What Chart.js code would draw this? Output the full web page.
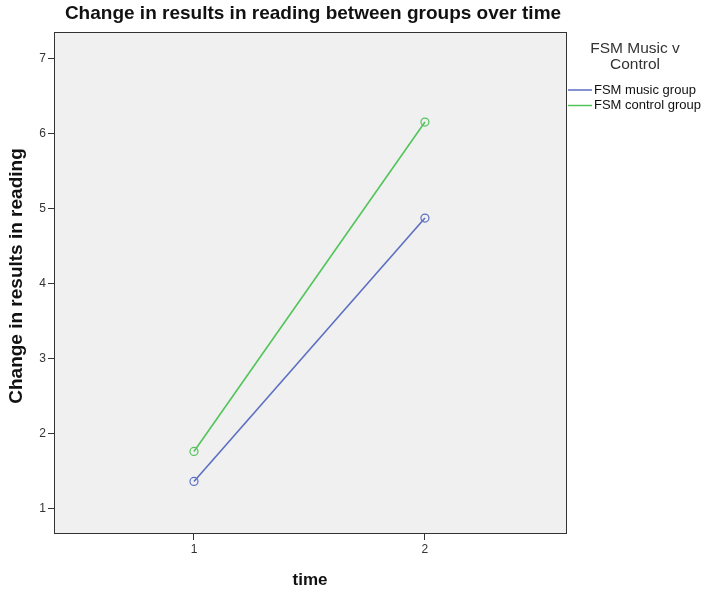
<!DOCTYPE html>
<html>
<head>
<meta charset="utf-8">
<script src="https://cdn.jsdelivr.net/npm/chart.js@4/dist/chart.umd.min.js"></script>
<style>
  html, body { margin: 0; padding: 0; background: #fff; }
  #wrap { width: 704px; height: 591px; position: relative; }
</style>
</head>
<body>
<div id="wrap"><canvas id="c" width="704" height="591"></canvas></div>
<script>
// Mean change in reading results at each time point
const timePoints = [1, 2];
const musicGroup = [1.36, 4.87];
const controlGroup = [1.76, 6.15];
const seriesNames = ['FSM music group', 'FSM control group'];
const yTicks = [1, 2, 3, 4, 5, 6, 7];
const xTicks = [1, 2];

const chartTitle = 'Change in results in reading between groups over time';
const yTitle = 'Change in results in reading';
const xTitle = 'time';
const legendTitle = ['FSM Music v', 'Control'];

const colors = ['#5b6fc2', '#52c45a'];
const FONT = '"Liberation Sans", Arial, sans-serif';

function toPoints(xs, ys) { return xs.map((x, i) => ({ x: x, y: ys[i] })); }

// Grey panel behind the plot, frame, titles and legend
const panel = {
  id: 'panel',
  beforeDraw(chart) {
    const { ctx, chartArea: a } = chart;
    ctx.save();
    ctx.fillStyle = '#f0f0f0';
    ctx.fillRect(a.left, a.top, a.right - a.left, a.bottom - a.top);
    ctx.restore();
  },
  afterDraw(chart) {
    const { ctx, chartArea: a } = chart;
    ctx.save();
    ctx.strokeStyle = '#333';
    ctx.lineWidth = 1;
    ctx.strokeRect(a.left + 0.5, a.top + 0.5, a.right - a.left - 1, a.bottom - a.top - 1);

    // chart title
    ctx.fillStyle = '#111';
    ctx.textAlign = 'center';
    ctx.textBaseline = 'middle';
    ctx.font = 'bold 19px ' + FONT;
    ctx.fillText(chartTitle, 313, 14);

    // axis titles
    ctx.font = 'bold 17px ' + FONT;
    ctx.fillText(xTitle, 310, 580);
    ctx.font = 'bold 19px ' + FONT;
    ctx.save();
    ctx.translate(17, 276);
    ctx.rotate(-Math.PI / 2);
    ctx.fillText(yTitle, 0, 0);
    ctx.restore();

    // legend
    ctx.fillStyle = '#333';
    ctx.font = '15.5px ' + FONT;
    ctx.fillText(legendTitle[0], 635, 49);
    ctx.fillText(legendTitle[1], 635, 65);
    ctx.font = '13px ' + FONT;
    ctx.textAlign = 'left';
    seriesNames.forEach((name, i) => {
      const y = 90 + i * 15.5;
      ctx.strokeStyle = colors[i];
      ctx.lineWidth = 1.5;
      ctx.beginPath();
      ctx.moveTo(568, y);
      ctx.lineTo(592, y);
      ctx.stroke();
      ctx.fillStyle = '#111';
      ctx.fillText(name, 594, y);
    });
    ctx.restore();
  }
};

new Chart(document.getElementById('c'), {
  type: 'line',
  data: {
    datasets: [
      { label: seriesNames[0], data: toPoints(timePoints, musicGroup) },
      { label: seriesNames[1], data: toPoints(timePoints, controlGroup) }
    ].map((d, i) => Object.assign(d, {
      borderColor: colors[i],
      backgroundColor: 'rgba(0,0,0,0)',
      borderWidth: 1.6,
      pointRadius: 4,
      pointBorderWidth: 1.2,
      pointBorderColor: colors[i],
      pointBackgroundColor: 'rgba(0,0,0,0)',
      tension: 0
    }))
  },
  options: {
    responsive: false,
    animation: false,
    devicePixelRatio: 1,
    layout: { padding: { left: 0, top: 32, right: 137, bottom: 0 } },
    plugins: { legend: { display: false }, title: { display: false }, tooltip: { enabled: false } },
    scales: {
      x: {
        type: 'linear',
        min: 0.394,
        max: 2.615,
        afterFit(s) { s.height = 57; },
        afterBuildTicks(s) { s.ticks = xTicks.map(v => ({ value: v })); },
        grid: { drawOnChartArea: false, drawTicks: true, tickLength: 6, color: '#333' },
        border: { display: false },
        ticks: { font: { family: FONT, size: 12 }, color: '#333', padding: 2 }
      },
      y: {
        type: 'linear',
        min: 0.66,
        max: 7.35,
        afterFit(s) { s.width = 54; },
        afterBuildTicks(s) { s.ticks = yTicks.map(v => ({ value: v })); },
        grid: { drawOnChartArea: false, drawTicks: true, tickLength: 6, color: '#333' },
        border: { display: false },
        ticks: { font: { family: FONT, size: 12 }, color: '#333', padding: 2 }
      }
    }
  },
  plugins: [panel]
});
</script>
</body>
</html>
